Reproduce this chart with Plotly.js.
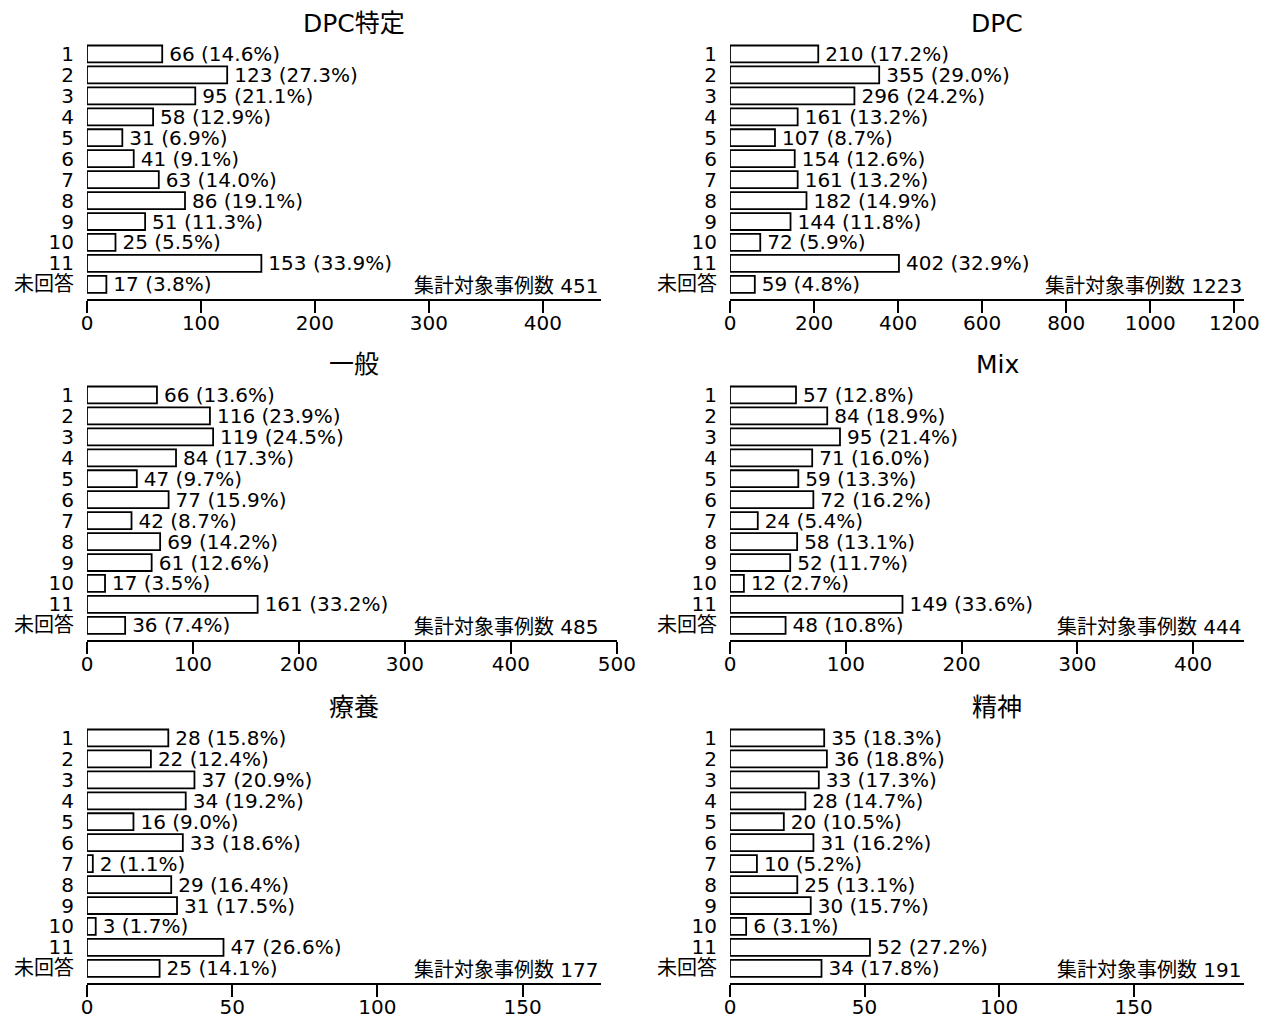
<!DOCTYPE html>
<html>
<head>
<meta charset="utf-8">
<script src="https://cdn.plot.ly/plotly-3.0.1.min.js"></script>
<style>
  html, body { margin: 0; padding: 0; background: #fff; }
  #chart { width: 1271px; height: 1018px; }
</style>
</head>
<body>
<div id="chart"></div>
<script>
// ---- Data ----
const categories = ['1','2','3','4','5','6','7','8','9','10','11','未回答'];

const panelTitles = ['DPC特定', 'DPC', '一般', 'Mix', '療養', '精神'];
const panelTotals = [451, 1223, 485, 444, 177, 191];

const dpcTokuteiCounts = [66, 123, 95, 58, 31, 41, 63, 86, 51, 25, 153, 17];
const dpcTokuteiPct = ['14.6','27.3','21.1','12.9','6.9','9.1','14.0','19.1','11.3','5.5','33.9','3.8'];

const dpcCounts = [210, 355, 296, 161, 107, 154, 161, 182, 144, 72, 402, 59];
const dpcPct = ['17.2','29.0','24.2','13.2','8.7','12.6','13.2','14.9','11.8','5.9','32.9','4.8'];

const ippanCounts = [66, 116, 119, 84, 47, 77, 42, 69, 61, 17, 161, 36];
const ippanPct = ['13.6','23.9','24.5','17.3','9.7','15.9','8.7','14.2','12.6','3.5','33.2','7.4'];

const mixCounts = [57, 84, 95, 71, 59, 72, 24, 58, 52, 12, 149, 48];
const mixPct = ['12.8','18.9','21.4','16.0','13.3','16.2','5.4','13.1','11.7','2.7','33.6','10.8'];

const ryoyoCounts = [28, 22, 37, 34, 16, 33, 2, 29, 31, 3, 47, 25];
const ryoyoPct = ['15.8','12.4','20.9','19.2','9.0','18.6','1.1','16.4','17.5','1.7','26.6','14.1'];

const seishinCounts = [35, 36, 33, 28, 20, 31, 10, 25, 30, 6, 52, 34];
const seishinPct = ['18.3','18.8','17.3','14.7','10.5','16.2','5.2','13.1','15.7','3.1','27.2','17.8'];

const panelCounts = [dpcTokuteiCounts, dpcCounts, ippanCounts, mixCounts, ryoyoCounts, seishinCounts];
const panelPcts = [dpcTokuteiPct, dpcPct, ippanPct, mixPct, ryoyoPct, seishinPct];
const tickStep = [100, 200, 100, 100, 50, 50];
const axisMax = [451, 1223, 500, 444, 177, 191];

// ---- Layout geometry (pixels) ----
const W = 1271, H = 1018;
const colLeft = [87, 730];
const baseWidth = 514;
const rowTop = [43.5, 384.5, 727.5];
const rowBottom = [299, 640, 983];
const titleY = [23, 364, 707];
const titleX = [354, 997];
const FONT = 'DejaVu Sans, Verdana, "Noto Sans CJK JP", sans-serif';

const data = [];
const layout = {
  width: W, height: H,
  margin: {l: 0, r: 0, t: 0, b: 0},
  paper_bgcolor: '#fff', plot_bgcolor: '#fff',
  showlegend: false,
  font: {family: FONT, size: 20, color: '#000'},
  annotations: [],
  bargap: 0.19
};

for (let i = 0; i < 6; i++) {
  const col = i % 2, row = Math.floor(i / 2);
  const n = panelTotals[i];
  const suffix = i === 0 ? '' : String(i + 1);
  const xa = 'x' + suffix, ya = 'y' + suffix;
  const x0 = colLeft[col];
  const x1 = x0 + baseWidth * axisMax[i] / n;

  data.push({
    type: 'bar',
    orientation: 'h',
    x: panelCounts[i],
    y: categories,
    xaxis: xa, yaxis: ya,
    text: panelCounts[i].map((v, k) => '\u2009' + v + ' (' + panelPcts[i][k] + '%)'),
    textposition: 'outside',
    constraintext: 'none',
    cliponaxis: false,
    textfont: {family: FONT, size: 20, color: '#000'},
    marker: {color: '#fff', line: {color: '#000', width: 1.8}},
    hoverinfo: 'none'
  });

  layout['xaxis' + suffix] = {
    domain: [x0 / W, x1 / W],
    anchor: ya,
    range: [0, axisMax[i]],
    dtick: tickStep[i], tick0: 0,
    showline: true, linecolor: '#000', linewidth: 2,
    ticks: 'outside', ticklen: 12, tickwidth: 2, tickcolor: '#000',
    ticklabelstandoff: -7,
    showgrid: false, zeroline: false,
    tickfont: {family: FONT, size: 20, color: '#000'}
  };
  layout['yaxis' + suffix] = {
    domain: [1 - rowBottom[row] / H, 1 - rowTop[row] / H],
    anchor: xa,
    type: 'category',
    categoryorder: 'array', categoryarray: categories,
    tickmode: 'array', tickvals: categories, ticktext: categories,
    range: [11.7, -0.5],
    showline: false, showgrid: false, zeroline: false,
    ticks: '', ticklabelstandoff: 12,
    tickfont: {family: FONT, size: 20, color: '#000'}
  };

  layout.annotations.push({
    xref: 'paper', yref: 'paper',
    x: titleX[col] / W, y: 1 - titleY[row] / H,
    xanchor: 'center', yanchor: 'middle',
    text: panelTitles[i], showarrow: false,
    font: {family: FONT, size: 25, color: '#000'}
  });
  layout.annotations.push({
    xref: xa, yref: ya,
    x: n, y: 11.1,
    xanchor: 'right', yanchor: 'middle',
    text: '集計対象事例数 ' + n, showarrow: false,
    font: {family: FONT, size: 20, color: '#000'}
  });
}

Plotly.newPlot('chart', data, layout, {staticPlot: true, displayModeBar: false});
</script>
</body>
</html>
